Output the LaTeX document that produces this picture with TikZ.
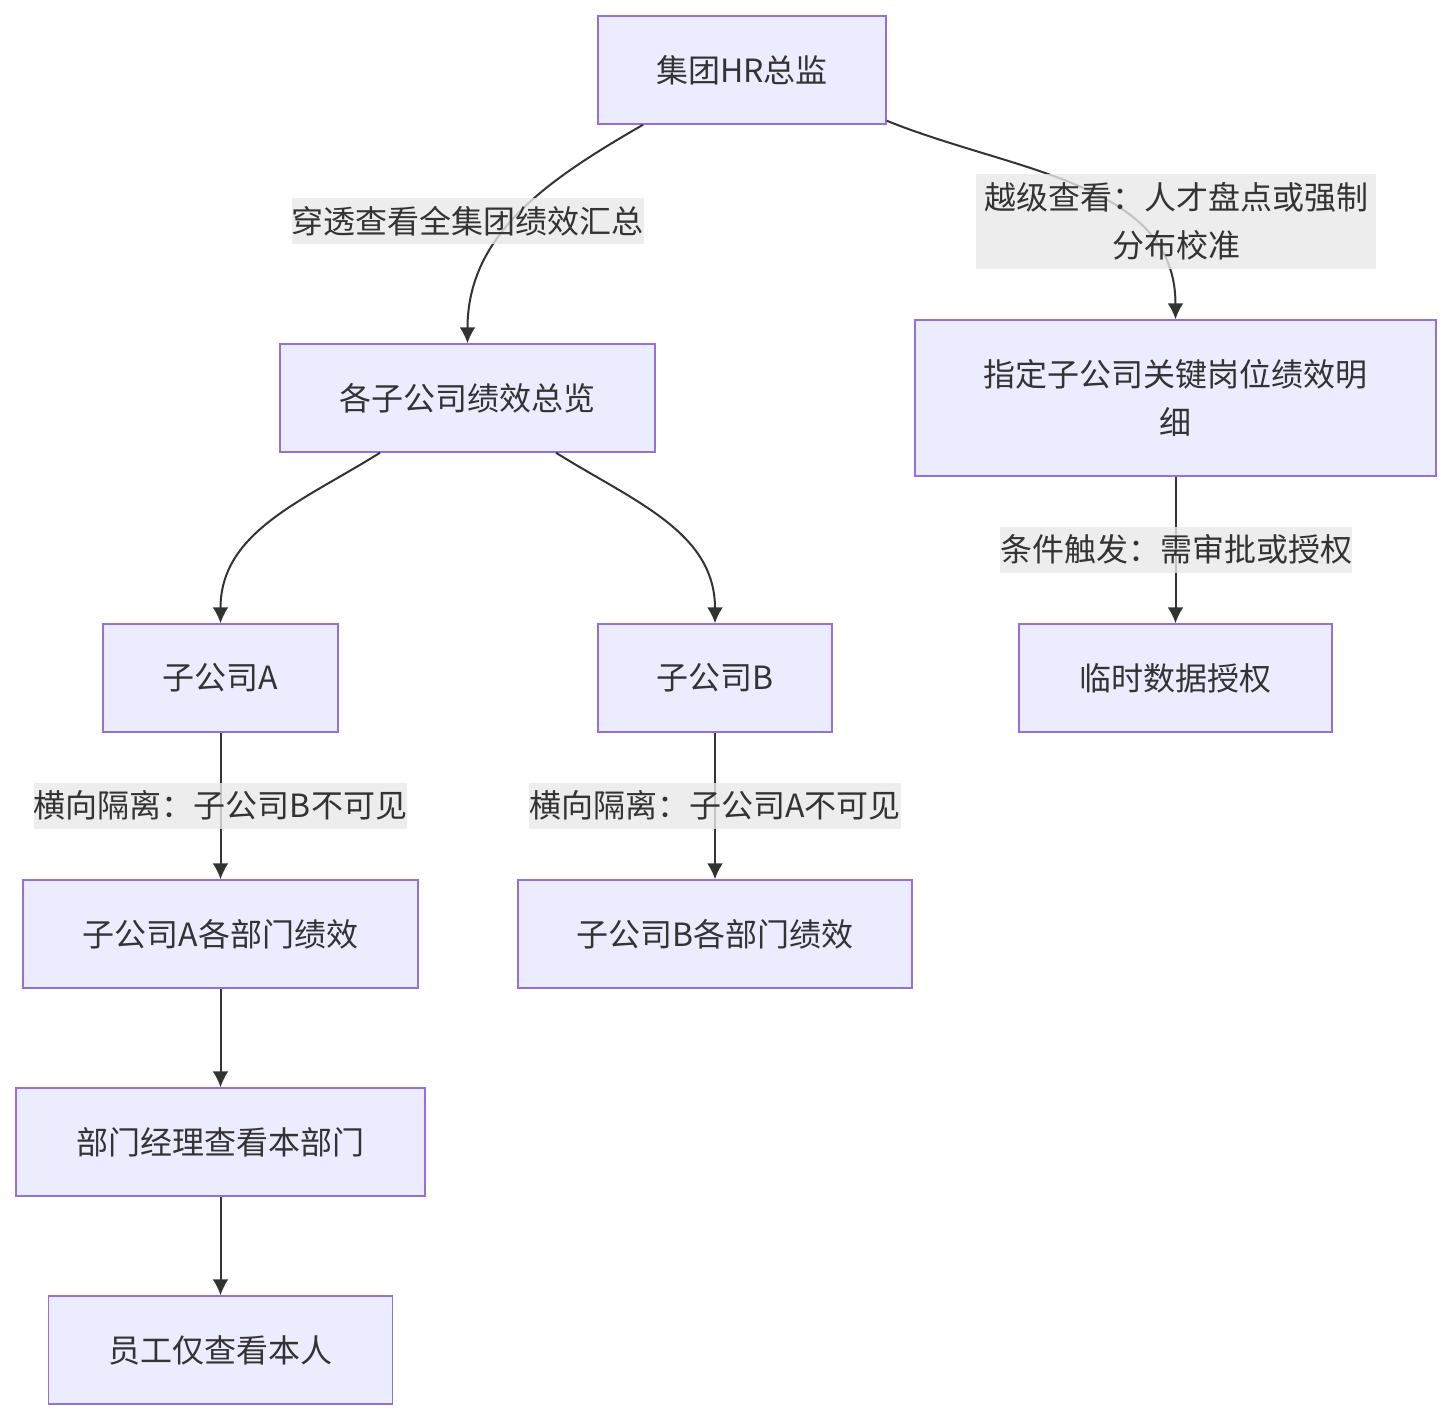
\documentclass[tikz,border=0pt]{standalone}
\usepackage{fontspec}
\setmainfont{Noto Sans CJK SC}
\usetikzlibrary{arrows.meta}
\definecolor{boxfill}{HTML}{ECECFF}
\definecolor{boxline}{HTML}{9370DB}
\definecolor{ink}{HTML}{333333}
\definecolor{lblbg}{HTML}{E8E8E8}
\tikzset{
  box/.style={draw=boxline, fill=boxfill, line width=0.75pt, minimum height=54pt,
    inner sep=0pt, text=ink, align=center, font=\fontsize{16}{24}\selectfont},
  lbl/.style={fill=lblbg, fill opacity=0.8, text opacity=1, text=ink, inner sep=0pt,
    minimum height=23pt, align=center, font=\fontsize{16}{24}\selectfont},
  arr/.style={draw=ink, line width=1pt, -{Latex[length=8pt,width=8pt]}}
}
\begin{document}
\begin{tikzpicture}[x=0.5pt,y=-0.5pt]
\useasboundingbox (0,0) rectangle (1451,1420);

%boxes
\node[box, minimum width=144pt] (hr) at (742,70) {集团HR总监};
\node[box, minimum width=187.5pt] (overview) at (467.5,398) {各子公司绩效总览};
\node[box, minimum width=260.5pt, minimum height=78pt] (detail) at (1175.5,398) {指定子公司关键岗位绩效明\\细};
\node[box, minimum width=117.5pt] (subA) at (220.5,678) {子公司A};
\node[box, minimum width=117pt] (subB) at (715,678) {子公司B};
\node[box, minimum width=156.5pt] (grant) at (1175.5,678) {临时数据授权};
\node[box, minimum width=197.5pt] (deptA) at (220.5,934) {子公司A各部门绩效};
\node[box, minimum width=197pt] (deptB) at (715,934) {子公司B各部门绩效};
\node[box, minimum width=204.5pt] (mgr) at (220.5,1142) {部门经理查看本部门};
\node[box, minimum width=172pt] (emp) at (220.5,1350) {员工仅查看本人};

%connectors
\draw[arr] (hr.south -| 643,0) to[out=210, in=90] (overview.north);
\draw[arr] (hr.south east) ++(0,-4) to[out=-22, in=90] (detail.north);
\draw[arr] (overview.south -| 380,0) to[out=212, in=90] (subA.north);
\draw[arr] (overview.south -| 556,0) to[out=-32, in=90] (subB.north);
\draw[arr] (detail) -- (grant);
\draw[arr] (subA) -- (deptA);
\draw[arr] (subB) -- (deptB);
\draw[arr] (deptA) -- (mgr);
\draw[arr] (mgr) -- (emp);

%labels
\node[lbl] (l1) at (467.5,221) {穿透查看全集团绩效汇总};
\node[lbl, minimum width=200pt, minimum height=47.5pt] (l2) at (1176,221.5) {越级查看：人才盘点或强制\\分布校准};
\node[lbl] (l3) at (1176,549.5) {条件触发：需审批或授权};
\node[lbl] (l4) at (220.5,805.5) {横向隔离：子公司B不可见};
\node[lbl] (l5) at (715,805.5) {横向隔离：子公司A不可见};
\end{tikzpicture}
\end{document}
